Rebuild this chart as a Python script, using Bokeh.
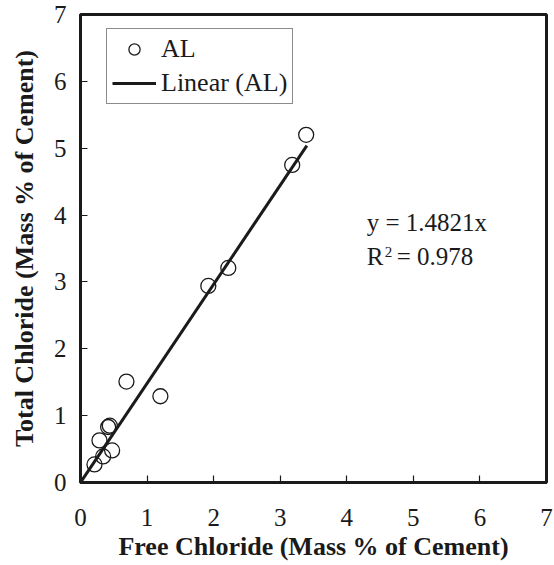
from bokeh.plotting import figure
from bokeh.models import Range1d, Legend, LegendItem, Label, FixedTicker
from bokeh.embed import file_html
from bokeh.resources import INLINE

# Data
free_cl = [3.39, 3.18, 2.22, 1.92, 0.69, 1.20, 0.44, 0.415, 0.285, 0.475, 0.34, 0.21]
total_cl = [5.20, 4.75, 3.21, 2.94, 1.51, 1.29, 0.85, 0.83, 0.63, 0.48, 0.39, 0.27]
slope = 1.4821
fit_x = [0.0, 3.4]
fit_y = [slope * v for v in fit_x]
ticks = [0, 1, 2, 3, 4, 5, 6, 7]

FONT = "Liberation Serif"
INK = "#1a1a1a"

p = figure(width=554, height=565, x_range=Range1d(0, 7), y_range=Range1d(0, 7),
           output_backend="svg", toolbar_location=None,
           min_border_left=80, min_border_right=8, min_border_top=14, min_border_bottom=83)

p.grid.visible = False
p.outline_line_color = INK
p.outline_line_width = 3
p.background_fill_color = "white"
p.border_fill_color = "white"

for ax in (p.xaxis[0], p.yaxis[0]):
    ax.ticker = FixedTicker(ticks=ticks)
    ax.major_tick_in = 7
    ax.major_tick_out = 0
    ax.minor_tick_in = 0
    ax.minor_tick_out = 0
    ax.axis_line_width = 3
    ax.axis_line_color = INK
    ax.major_tick_line_color = INK
    ax.major_tick_line_width = 1.2
    ax.major_label_text_font = FONT
    ax.major_label_text_font_size = "25px"
    ax.major_label_text_color = INK
    ax.axis_label_text_font = FONT
    ax.axis_label_text_font_size = "26px"
    ax.axis_label_text_font_style = "bold"
    ax.axis_label_text_color = INK

p.xaxis.axis_label = "Free Chloride (Mass % of Cement)"
p.yaxis.axis_label = "Total Chloride (Mass % of Cement)"
p.xaxis.major_label_standoff = 26
p.xaxis.axis_label_standoff = 3
p.yaxis.major_label_standoff = 14
p.yaxis.axis_label_standoff = 12

pts = p.scatter(free_cl, total_cl, marker="circle", size=15, fill_color=None,
                line_color=INK, line_width=1.3)
ln = p.line(fit_x, fit_y, line_color=INK, line_width=3)

legend = Legend(items=[LegendItem(label="AL", renderers=[pts]),
                       LegendItem(label="Linear (AL)", renderers=[ln])],
                location=(26, 378))
legend.label_text_font = FONT
legend.label_text_font_size = "26px"
legend.label_text_color = INK
legend.glyph_width = 44
legend.glyph_height = 28
legend.label_height = 28
legend.label_standoff = 5
legend.spacing = 4
legend.padding = 5
legend.margin = 0
legend.border_line_color = INK
legend.border_line_width = 1
legend.background_fill_color = "white"
legend.background_fill_alpha = 1
p.add_layout(legend)

eq_x = 4.30
p.add_layout(Label(x=eq_x, y=3.69, text="y = 1.4821x", text_font=FONT,
                   text_font_size="25px", text_color=INK))
p.add_layout(Label(x=eq_x, y=3.18, text="R", text_font=FONT,
                   text_font_size="25px", text_color=INK))
p.add_layout(Label(x=eq_x, y=3.18, x_offset=18, y_offset=13, text="2", text_font=FONT,
                   text_font_size="15px", text_color=INK))
p.add_layout(Label(x=eq_x, y=3.18, x_offset=30, text="= 0.978", text_font=FONT,
                   text_font_size="25px", text_color=INK))

open("out.html", "w").write(file_html(p, INLINE))
